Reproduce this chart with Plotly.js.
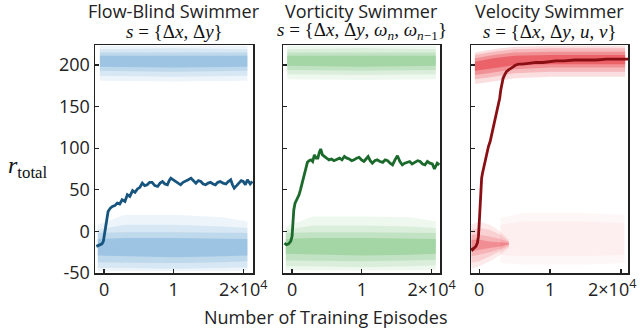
<!DOCTYPE html>
<html>
<head>
<meta charset="utf-8">
<script src="https://cdn.plot.ly/plotly-3.0.1.min.js"></script>
<style>
  html, body { margin: 0; padding: 0; background: #fff; }
  #plot-div { width: 640px; height: 329px; }
</style>
</head>
<body>
<div id="plot-div"></div>
<script>
// episodes in units of 10^4
var xTicks = [0, 1, 2];
var xTickText = ["0", "1", "2×10<sup>4</sup>"];
var yTicks = [-50, 0, 50, 100, 150, 200];
var yTickText = ["-50", "0", "50", "100", "150", "200"];

// moving-average reward curves
var blindX = [-0.11, -0.07, -0.03, -0.01, 0.01, 0.024, 0.04, 0.058, 0.09, 0.12, 0.155, 0.19, 0.225, 0.26, 0.3, 0.335, 0.37, 0.41, 0.445, 0.48, 0.515, 0.55, 0.585, 0.62, 0.655, 0.69, 0.73, 0.77, 0.805, 0.84, 0.875, 0.91, 0.935, 0.96, 0.995, 1.03, 1.065, 1.1, 1.135, 1.17, 1.21, 1.25, 1.285, 1.32, 1.355, 1.39, 1.425, 1.46, 1.495, 1.53, 1.565, 1.6, 1.635, 1.67, 1.71, 1.75, 1.785, 1.82, 1.845, 1.87, 1.905, 1.94, 1.97, 2.0, 2.03, 2.06, 2.1, 2.13];
var blindY = [-18, -16, -15, -12, -2, 10, 18, 24, 28, 30, 31, 34, 33, 38, 36, 44, 42, 49, 47, 51, 53, 58, 55, 56, 59, 59, 55, 54, 58, 60, 57, 56, 61, 64, 62, 60, 58, 56, 59, 60, 62, 64, 61, 58, 61, 60, 57, 56, 58, 59, 57, 56, 59, 60, 58, 57, 60, 62, 56, 52, 55, 58, 61, 60, 56, 62, 57, 60];

var vortX = [-0.11, -0.08, -0.05, -0.02, 0.0, 0.01, 0.025, 0.043, 0.06, 0.08, 0.1, 0.12, 0.135, 0.15, 0.17, 0.185, 0.2, 0.22, 0.245, 0.27, 0.295, 0.32, 0.345, 0.37, 0.39, 0.41, 0.435, 0.46, 0.495, 0.53, 0.565, 0.6, 0.64, 0.68, 0.715, 0.75, 0.785, 0.82, 0.855, 0.89, 0.925, 0.96, 0.995, 1.03, 1.06, 1.09, 1.12, 1.15, 1.185, 1.22, 1.26, 1.3, 1.335, 1.37, 1.405, 1.44, 1.475, 1.51, 1.545, 1.58, 1.615, 1.65, 1.685, 1.72, 1.76, 1.8, 1.835, 1.87, 1.905, 1.94, 1.975, 2.01, 2.04, 2.08, 2.11];
var vortY = [-14, -16, -15, -12, -6, 10, 26, 34, 37, 40, 44, 50, 55, 62, 67, 72, 78, 83, 85, 86, 84, 92, 88, 88, 95, 99, 92, 90, 88, 86, 87, 85, 87, 88, 86, 90, 88, 87, 85, 86, 88, 89, 86, 84, 87, 90, 85, 82, 85, 86, 84, 83, 86, 85, 82, 80, 86, 91, 84, 80, 82, 83, 84, 81, 83, 85, 84, 81, 80, 84, 82, 81, 75, 82, 80];

var veloX = [-0.11, -0.094, -0.07, -0.047, -0.025, -0.01, 0.0, 0.01, 0.018, 0.024, 0.035, 0.047, 0.07, 0.094, 0.11, 0.131, 0.155, 0.18, 0.205, 0.235, 0.255, 0.272, 0.29, 0.305, 0.32, 0.338, 0.36, 0.385, 0.415, 0.446, 0.48, 0.516, 0.56, 0.61, 0.7, 0.8, 0.9, 1.0, 1.08, 1.2, 1.35, 1.5, 1.65, 1.8, 1.95, 2.1];
var veloY = [-20, -22, -20, -18, -14, -6, 8, 26, 42, 58, 64, 70, 80, 90, 96, 102, 108, 118, 126, 138, 144, 152, 160, 170, 178, 184, 188, 192, 194, 196, 198, 200, 201, 201, 202, 203, 203, 204, 205, 205, 206, 206, 206, 207, 207, 207];

// scatter clouds of single episodes, read as envelopes from sparse edge to dense core
var blindTopX = [-0.06, 1.0, 2.06];
var blindTopLo = [[181, 180, 181], [187, 186, 187], [193, 192, 193], [198, 197, 198]];
var blindTopHi = [[223, 223, 223], [219, 220, 219], [215, 215, 215], [211, 211, 211]];
var blindLowX = [-0.09, 0.3, 1.0, 1.7, 2.06];
var blindLowLo = [[-48, -48, -48, -48, -47], [-44, -44, -45, -44, -43], [-37, -37, -38, -37, -36], [-29, -30, -31, -30, -29]];
var blindLowHi = [[8, 20, 20, 17, 12], [2, 8, 8, 6, 4], [-2, -1, -1, -2, -2], [-9, -8, -8, -9, -9]];

var vortTopX = [-0.07, 1.0, 2.06];
var vortTopLo = [[183, 182, 183], [189, 188, 189], [194, 193, 194], [199, 198, 199]];
var vortTopHi = [[223, 223, 223], [219, 220, 219], [215, 215, 215], [211, 211, 211]];
var vortLowX = [-0.09, 0.3, 1.0, 1.7, 2.06];
var vortLowLo = [[-47, -47, -47, -47, -46], [-42, -42, -43, -42, -41], [-35, -35, -36, -35, -34], [-27, -28, -29, -28, -27]];
var vortLowHi = [[6, 18, 18, 17, 12], [2, 7, 7, 6, 4], [-2, -1, -1, -2, -2], [-9, -8, -8, -9, -9]];

var veloTopX = [-0.06, 0.2, 0.5, 1.0, 2.06];
var veloTopLo = [[177, 180, 184, 186, 186], [183, 186, 190, 192, 192], [188, 191, 195, 197, 197], [193, 196, 200, 201, 201]];
var veloTopHi = [[215, 219, 222, 223, 223], [212, 216, 219, 220, 220], [208, 212, 215, 216, 216], [204, 208, 211, 212, 212]];
var veloLowX = [-0.11, 0.0, 0.15, 0.3, 0.42];
var veloLowLo = [[-45, -42, -36, -28, -20], [-38, -36, -30, -24, -18], [-30, -28, -25, -21, -16], [-24, -22, -20, -18, -15]];
var veloLowHi = [[8, 12, 8, 0, -10], [2, 4, 2, -4, -12], [-4, -4, -6, -9, -13], [-10, -10, -12, -13, -14]];
// very sparse episodes that stay low after learning
var veloSparseX = [0.3, 0.6, 1.5, 2.05];
var veloSparseLo = [[-38, -40, -40, -38], [-28, -30, -30, -28]];
var veloSparseHi = [[16, 22, 22, 20], [8, 12, 12, 10]];

var layerAlpha = [0.09, 0.12, 0.16, 0.25];

var panels = [
  {xa: "x", ya: "y", lineX: blindX, lineY: blindY, dot: "60,138,198", line: "#17557f",
   bands: [[blindTopX, blindTopLo, blindTopHi], [blindLowX, blindLowLo, blindLowHi]]},
  {xa: "x2", ya: "y2", lineX: vortX, lineY: vortY, dot: "70,172,74", line: "#1b6a2c",
   bands: [[vortTopX, vortTopLo, vortTopHi], [vortLowX, vortLowLo, vortLowHi]]},
  {xa: "x3", ya: "y3", lineX: veloX, lineY: veloY, dot: "228,28,38", line: "#8a0f14",
   bands: [[veloTopX, veloTopLo, veloTopHi], [veloLowX, veloLowLo, veloLowHi]]}
];

function band(xs, lo, hi, xa, ya, fill) {
  return {
    x: xs.concat(xs.slice().reverse()),
    y: hi.concat(lo.slice().reverse()),
    xaxis: xa, yaxis: ya,
    mode: "lines", fill: "toself",
    line: {width: 0},
    fillcolor: fill,
    hoverinfo: "skip"
  };
}

var data = [];
panels.forEach(function (p) {
  if (p.xa === "x3") {
    for (var s = 0; s < veloSparseLo.length; s++) {
      data.push(band(veloSparseX, veloSparseLo[s], veloSparseHi[s], p.xa, p.ya, "rgba(" + p.dot + ",0.035)"));
    }
  }
  p.bands.forEach(function (b) {
    for (var k = 0; k < b[1].length; k++) {
      var a = layerAlpha[k] * (p.xa === "x3" && b[0] === veloTopX ? 1.6 : 1);
      data.push(band(b[0], b[1][k], b[2][k], p.xa, p.ya, "rgba(" + p.dot + "," + a.toFixed(2) + ")"));
    }
  });
  data.push({
    x: p.lineX, y: p.lineY, xaxis: p.xa, yaxis: p.ya,
    mode: "lines", type: "scatter",
    line: {color: p.line, width: 2.8},
    hoverinfo: "skip"
  });
});

var sans = "Open Sans";
var serif = "Liberation Serif";
var axisBase = {
  showline: true, mirror: true, linecolor: "#222", linewidth: 1.5,
  ticks: "inside", ticklen: 4, tickcolor: "#222", tickwidth: 1.2,
  showgrid: false, zeroline: false,
  tickfont: {family: sans, size: 18, color: "#222"}
};

function xAxis(dom, range, labels) {
  return Object.assign({}, axisBase, {
    domain: dom, range: range, tickvals: xTicks, ticktext: labels
  });
}
function yAxis(anchor, labels) {
  return Object.assign({}, axisBase, {
    domain: [0.1702, 0.8632], range: [-50, 224], anchor: anchor,
    tickvals: yTicks, ticktext: yTickText, showticklabels: labels
  });
}

var titles = [
  ["Flow-Blind Swimmer", "<i>s</i> = {Δ<i>x</i>, Δ<i>y</i>}"],
  ["Vorticity Swimmer", "<i>s</i> = {Δ<i>x</i>, Δ<i>y</i>, <i>ω</i><sub><i>n</i></sub>, <i>ω</i><sub><i>n</i>−1</sub>}"],
  ["Velocity Swimmer", "<i>s</i> = {Δ<i>x</i>, Δ<i>y</i>, <i>u</i>, <i>v</i>}"]
];
var annotations = [];
["x", "x2", "x3"].forEach(function (xa, i) {
  annotations.push({xref: xa + " domain", yref: "paper", x: 0.5, y: 1 - 11 / 329,
    text: titles[i][0], showarrow: false, xanchor: "center", yanchor: "middle",
    font: {family: sans, size: 18, color: "#222"}});
  annotations.push({xref: xa + " domain", yref: "paper", x: 0.5, y: 1 - 31 / 329,
    text: titles[i][1], showarrow: false, xanchor: "center", yanchor: "middle",
    font: {family: serif, size: 19, color: "#111"}});
});
// last tick label of the right panel sits against the figure edge
annotations.push({xref: "x3", yref: "paper", x: 2, y: 1 - 288 / 329, xshift: -9,
  text: xTickText[2], showarrow: false, xanchor: "center", yanchor: "middle",
  font: {family: sans, size: 18, color: "#222"}});
annotations.push({xref: "paper", yref: "paper", x: 28 / 640, y: 1 - 167 / 329,
  text: "<i>r</i><sub>total</sub>", showarrow: false, xanchor: "center", yanchor: "middle",
  font: {family: serif, size: 24, color: "#111"}});
annotations.push({xref: "paper", yref: "paper", x: 326 / 640, y: 1 - 317 / 329,
  text: "Number of Training Episodes", showarrow: false, xanchor: "center", yanchor: "middle",
  font: {family: sans, size: 18, color: "#222"}});

var layout = {
  width: 640, height: 329,
  margin: {l: 0, r: 0, t: 0, b: 0},
  paper_bgcolor: "#fff", plot_bgcolor: "#fff",
  showlegend: false, hovermode: false,
  xaxis: xAxis([95 / 640, 253 / 640], [-0.13, 2.14], xTickText),
  xaxis2: xAxis([283 / 640, 440 / 640], [-0.13, 2.12], xTickText),
  xaxis3: xAxis([471 / 640, 628 / 640], [-0.115, 2.1], [xTickText[0], xTickText[1], ""]),
  yaxis: yAxis("x", true),
  yaxis2: yAxis("x2", false),
  yaxis3: yAxis("x3", false),
  annotations: annotations
};
layout.xaxis.anchor = "y";
layout.xaxis2.anchor = "y2";
layout.xaxis3.anchor = "y3";

Plotly.newPlot("plot-div", data, layout, {staticPlot: true});
</script>
</body>
</html>
